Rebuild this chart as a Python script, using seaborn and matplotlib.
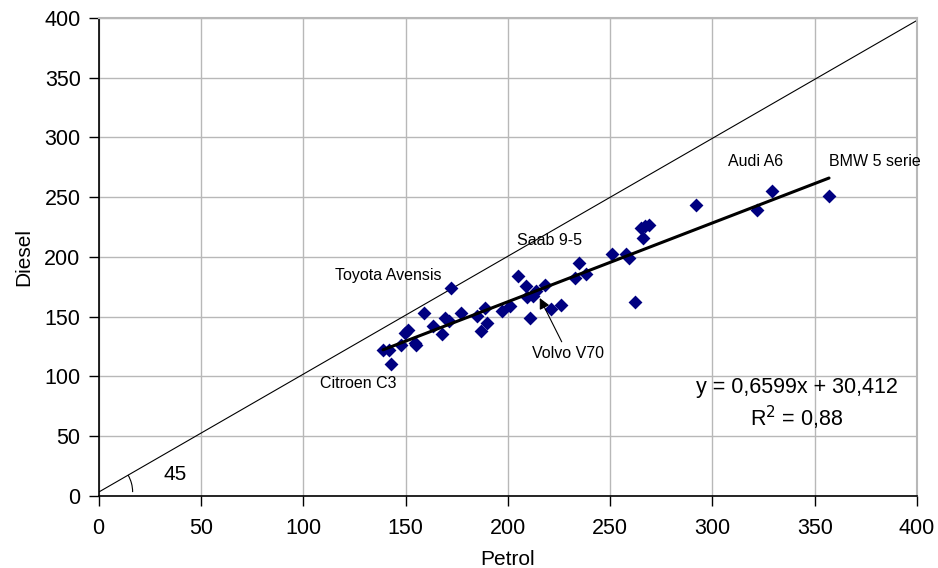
"""Diesel vs petrol scatter with a linear trend line and a 45 degree reference."""

import matplotlib
matplotlib.use("Agg")
import matplotlib.pyplot as plt
import numpy as np
import pandas as pd
import seaborn as sns
from matplotlib.patches import Arc

# Values
petrol = [139, 142, 143, 148, 149.6, 151, 154.5, 155.3, 159, 163.5,
          168, 169.5, 171, 172, 177, 184.7, 187, 188.7, 190, 197,
          201, 205, 209, 210.7, 209.5, 212.3, 214, 218, 221, 226,
          233, 235, 238, 251, 258, 259, 262, 266, 265.3, 267,
          269, 292, 322, 329, 357]
diesel = [122, 122, 110, 126, 136.6, 139, 128, 126.5, 153, 142,
          135, 149, 146, 174, 153, 150.6, 138, 157, 145, 155,
          159, 184, 176, 148.7, 166.5, 167.4, 171, 176.6, 156, 160,
          182, 195, 186, 202.6, 202, 199, 162, 216, 224, 225.5,
          227, 243.5, 239.5, 255, 250.6]

trend_slope = 0.6599
trend_intercept = 30.412
r_squared = "0,88"

diagonal_x = [0, 400]
diagonal_y = [3, 398]

car_labels = ["Toyota Avensis", "Citroen C3", "Saab 9-5", "Audi A6", "BMW 5 serie"]
car_label_x = [115.5, 108, 204.3, 307.4, 357.2]
car_label_y = [184, 93.6, 214, 280, 280]

ticks = [0, 50, 100, 150, 200, 250, 300, 350, 400]

df = pd.DataFrame({"Petrol": petrol, "Diesel": diesel})

sns.set_theme(style="white")
plt.rcParams["font.family"] = ["Liberation Sans", "DejaVu Sans"]
plt.rcParams["text.color"] = "black"
plt.rcParams["axes.labelcolor"] = "black"
plt.rcParams["xtick.color"] = "black"
plt.rcParams["ytick.color"] = "black"

fig = plt.figure(figsize=(9.38, 5.68), dpi=100)
ax = fig.add_axes([0.1052, 0.1273, 0.8724, 0.841])

ax.set_xlim(0, 400)
ax.set_ylim(0, 400)
ax.set_xticks(ticks)
ax.set_yticks(ticks)
ax.grid(True, color="#b8b8b8", linewidth=1.0)
ax.set_axisbelow(True)

# 45 degree reference line and its angle mark
ax.plot(diagonal_x, diagonal_y, color="black", linewidth=0.8, zorder=2)
ax.add_patch(Arc((0, diagonal_y[0]), 33.2, 57, theta1=0, theta2=45,
                 color="black", linewidth=0.8))
ax.text(37.3, 17.4, "45", fontsize=15, ha="center", va="center")

sns.scatterplot(data=df, x="Petrol", y="Diesel", marker="D", s=50,
                color="#000080", linewidth=0, ax=ax, zorder=3)

trend_x = np.array([min(petrol), max(petrol)])
ax.plot(trend_x, trend_slope * trend_x + trend_intercept,
        color="black", linewidth=2.2, zorder=4)

for label, lx, ly in zip(car_labels, car_label_x, car_label_y):
    ax.text(lx, ly, label, fontsize=11.5, ha="left", va="center", clip_on=False)

ax.annotate("Volvo V70", xy=(215.6, 165.5), xytext=(211.7, 118.8),
            fontsize=11.5, ha="left", va="center",
            arrowprops=dict(arrowstyle="-|>", color="black", linewidth=0.8,
                            shrinkA=1, shrinkB=0, mutation_scale=16))

ax.text(341.4, 90.3, f"y = {str(trend_slope).replace('.', ',')}x + "
        f"{str(trend_intercept).replace('.', ',')}",
        fontsize=15.5, ha="center", va="center")
ax.text(341.4, 65.1, f"R$^2$ = {r_squared}", fontsize=15.5,
        ha="center", va="center")

for side in ("left", "bottom"):
    ax.spines[side].set_color("black")
    ax.spines[side].set_linewidth(1.2)
for side in ("top", "right"):
    ax.spines[side].set_color("#b8b8b8")
    ax.spines[side].set_linewidth(1.5)

ax.tick_params(axis="both", direction="out", length=7, width=1, color="black",
               labelsize=15.5, pad=6, left=True, bottom=True)
ax.tick_params(axis="x", pad=9)
ax.set_xlabel("Petrol", fontsize=15, labelpad=8)
ax.set_ylabel("Diesel", fontsize=15, labelpad=8)

fig.savefig("out.png", dpi=100)
